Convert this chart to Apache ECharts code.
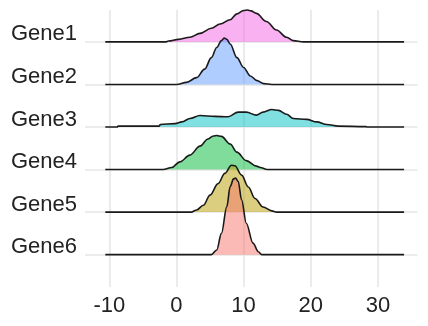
<!DOCTYPE html>
<html>
<head>
<meta charset="utf-8">
<script src="https://cdn.jsdelivr.net/npm/echarts@6/dist/echarts.min.js"></script>
<style>html,body{margin:0;padding:0;background:#fff}#c{width:428px;height:326px}</style>
</head>
<body>
<div id="c"></div>
<script>
// Genes (top to bottom)
var genes = ['Gene1', 'Gene2', 'Gene3', 'Gene4', 'Gene5', 'Gene6'];
// Ridge baseline position on the y scale for each gene
var baselines = [6, 5, 4, 3, 2, 1];
// x tick labels
var xTicks = [-10, 0, 10, 20, 30];
// Density curves: [x, height]
var gene1 = [[-10.6,0],[-1.6,0],[-1.2,0.02],[0.3,0.06],[2.0,0.11],[3.5,0.2],[5.2,0.32],[6.5,0.42],[8.0,0.52],[9.0,0.66],[10.0,0.74],[10.6,0.75],[11.1,0.73],[11.9,0.67],[13.4,0.48],[14.9,0.28],[16.4,0.11],[17.4,0.03],[18.9,0],[33.9,0]];
var gene2 = [[-10.6,0],[0,0],[1.5,0.05],[3.0,0.16],[4.2,0.36],[5.2,0.63],[6.0,0.87],[6.7,1.03],[7.1,1.09],[7.5,1.06],[8.0,0.95],[9.0,0.63],[10.0,0.4],[11.0,0.2],[12.0,0.09],[13.0,0.02],[14.2,0],[33.9,0]];
var gene3 = [[-10.6,0],[-8.8,0],[-8.7,0.02],[-2.6,0.02],[-2.4,0.06],[-0.2,0.08],[0.8,0.12],[2.0,0.2],[3.5,0.27],[5.7,0.25],[7.7,0.24],[9.2,0.35],[10.4,0.35],[11.9,0.28],[12.9,0.35],[14.2,0.41],[15.2,0.39],[16.4,0.3],[17.4,0.2],[19.4,0.18],[20.9,0.12],[22.4,0.06],[24.1,0.02],[28.2,0.01],[28.4,0],[33.9,0]];
var gene4 = [[-10.6,0],[-2.0,0],[-0.7,0.05],[0.5,0.18],[2.0,0.34],[3.5,0.55],[4.7,0.72],[5.5,0.79],[6.0,0.8],[6.7,0.78],[8.0,0.6],[9.0,0.41],[10.4,0.21],[11.9,0.08],[12.5,0.05],[13.5,0],[33.9,0]];
var gene5 = [[-10.6,0],[2.2,0],[3.0,0.05],[4.0,0.16],[5.0,0.4],[6.2,0.67],[7.2,0.91],[8.2,1.1],[8.7,1.09],[9.7,0.87],[10.7,0.59],[11.7,0.32],[12.9,0.12],[14.2,0.03],[14.9,0],[33.9,0]];
var gene6 = [[-10.6,0],[5.2,0],[6.0,0.11],[6.7,0.5],[7.5,1.13],[8.0,1.6],[8.5,1.78],[8.8,1.8],[9.2,1.72],[9.7,1.29],[10.4,0.74],[11.4,0.27],[12.2,0.07],[12.7,0],[33.9,0]];
var curves = [gene1, gene2, gene3, gene4, gene5, gene6];
var fills = ['#F564E3', '#619CFF', '#00BFC4', '#00BA38', '#B79F00', '#F8766D'];

var FONT = '"Liberation Sans", Arial, sans-serif';
var W = 428, H = 326;
var G = { left: 85, right: 10.5, top: 10, bottom: 39 };
var X_MIN = -13.62, X_MAX = 35.9, Y_MIN = 0.24, Y_MAX = 6.75;
var pxPerUnit = (H - G.top - G.bottom) / (Y_MAX - Y_MIN);

var grids = [{ left: G.left, right: G.right, top: G.top, bottom: G.bottom, containLabel: false, outerBoundsMode: 'none' }];
var xAxes = [{
  type: 'value', gridIndex: 0, min: X_MIN, max: X_MAX,
  axisLine: { show: false }, axisTick: { show: false, customValues: xTicks },
  axisLabel: { customValues: xTicks, color: '#222', fontSize: 22, fontFamily: FONT, margin: 8, lineHeight: 22 },
  splitLine: { show: true, lineStyle: { color: '#e6e6e6', width: 1.6 } }
}];
var yAxes = [{
  type: 'value', gridIndex: 0, min: Y_MIN, max: Y_MAX,
  axisLine: { show: false }, axisTick: { show: false, customValues: baselines },
  axisLabel: {
    customValues: baselines, color: '#222', fontSize: 22, fontFamily: FONT, margin: 8,
    verticalAlign: 'bottom', lineHeight: 15,
    formatter: function (v) { var k = baselines.indexOf(Math.round(v)); return k >= 0 ? genes[k] : ''; }
  },
  splitLine: { show: true, lineStyle: { color: '#e6e6e6', width: 1.6 } }
}];
var series = [];
genes.forEach(function (g, i) {
  var base = baselines[i];
  var basePx = G.top + (Y_MAX - base) * pxPerUnit;
  var gi = i + 1;
  grids.push({ left: G.left, right: G.right, top: G.top, bottom: H - basePx, containLabel: false, outerBoundsMode: 'none' });
  xAxes.push({ type: 'value', gridIndex: gi, min: X_MIN, max: X_MAX, show: false, splitLine: { show: false } });
  yAxes.push({ type: 'value', gridIndex: gi, min: 0, max: Y_MAX - base, show: false, splitLine: { show: false } });
  series.push({
    type: 'line', name: g, xAxisIndex: gi, yAxisIndex: gi,
    data: curves[i],
    showSymbol: false, symbol: 'none', silent: true,
    smooth: 0.35, smoothMonotone: 'x',
    clip: false,
    lineStyle: { color: '#1a1a1a', width: 1.6 },
    areaStyle: { color: fills[i], opacity: 0.5, origin: 'start' }
  });
});

var chart = echarts.init(document.getElementById('c'), null, { renderer: 'canvas' });
chart.setOption({
  animation: false,
  backgroundColor: '#ffffff',
  grid: grids,
  xAxis: xAxes,
  yAxis: yAxes,
  series: series
});
</script>
</body>
</html>
